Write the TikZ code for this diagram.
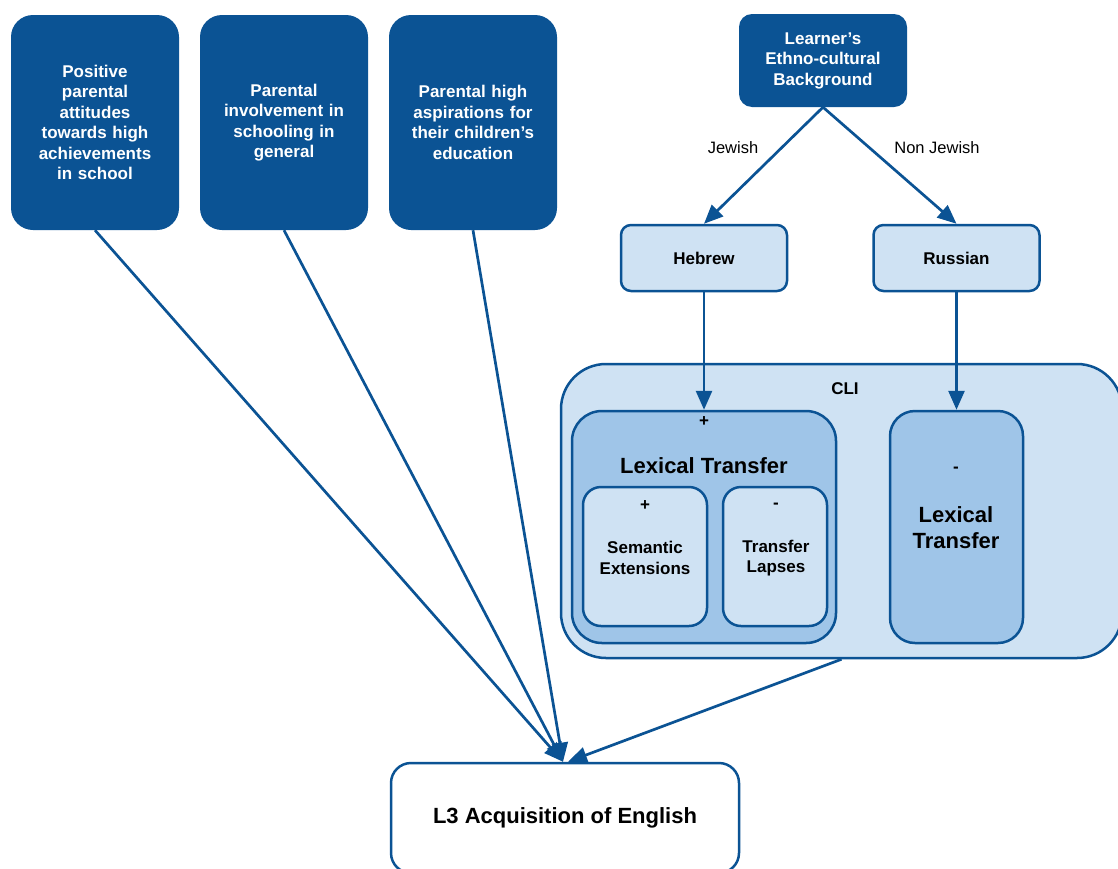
\documentclass[tikz,border=0pt]{standalone}
\usepackage{fontspec}
\setmainfont{Liberation Sans}
\usetikzlibrary{arrows.meta}
\definecolor{darkblue}{HTML}{0B5394}
\definecolor{paleblue}{HTML}{CFE2F3}
\definecolor{midblue}{HTML}{9FC5E8}

\begin{document}
\begin{tikzpicture}[x=1pt,y=-1pt,
  factor/.style={fill=darkblue, rounded corners=22pt, minimum width=168pt, minimum height=215pt,
    text width=150pt, align=center, inner sep=0pt, text=white,
    font=\bfseries\fontsize{17}{20.5}\selectfont},
  group/.style={draw=darkblue, line width=2.5pt, inner sep=0pt},
  txt/.style={inner sep=0pt, align=center, font=\bfseries\fontsize{17}{20.5}\selectfont},
  big/.style={inner sep=0pt, align=center, font=\bfseries\fontsize{22}{26}\selectfont},
  lbl/.style={inner sep=0pt, font=\fontsize{16.5}{20}\selectfont},
  arr/.style={draw=darkblue, line width=2.7pt, -{Triangle[length=19pt,width=16pt]}}]
\clip (0,0) rectangle (1118,868);

% parental factors
\node[factor] (att) at (95,122.5) {Positive\\parental\\attitudes\\towards high\\achievements\\in school};
\node[factor] (inv) at (284,122.5) {Parental\\involvement in\\schooling in\\general};
\node[factor] (asp) at (473,122.5) {Parental high\\aspirations for\\their children’s\\education};

% background and languages
\node[factor, minimum height=93pt, rounded corners=13pt] (bg) at (823,60.5) {Learner’s\\Ethno-cultural\\Background};
\node[group, txt, fill=paleblue, minimum width=166pt, minimum height=66pt, rounded corners=10pt] (heb) at (704,258) {Hebrew};
\node[group, txt, fill=paleblue, minimum width=166pt, minimum height=66pt, rounded corners=10pt] (rus) at (956.5,258) {Russian};
\node[lbl] (jew) at (733,148) {Jewish};
\node[lbl] (nonjew) at (937,148) {Non Jewish};

% CLI
\node[group, fill=paleblue, minimum width=561pt, minimum height=294pt, rounded corners=45pt] (cli) at (841.5,511) {};
\node[txt] (clilab) at (845,389) {CLI};

\node[group, fill=midblue, minimum width=264pt, minimum height=232pt, rounded corners=30pt] (ltpos) at (704,527) {};
\node[txt] (ltpossign) at (704,422) {+};
\node[big] (ltposlab) at (704,466) {Lexical Transfer};

\node[group, fill=paleblue, minimum width=124pt, minimum height=139pt, rounded corners=18pt] (sem) at (645,556.5) {};
\node[txt] (semsign) at (645,506) {+};
\node[txt] (semlab) at (645,558) {Semantic\\Extensions};

\node[group, fill=paleblue, minimum width=104pt, minimum height=139pt, rounded corners=18pt] (lap) at (775,556.5) {};
\node[txt] (lapsign) at (776,506) {-};
\node[txt] (laplab) at (776,558) {Transfer\\Lapses};

\node[group, fill=midblue, minimum width=133pt, minimum height=232pt, rounded corners=25pt] (ltneg) at (956.5,527) {};
\node[txt] (ltnegsign) at (956,470) {-};
\node[big] (ltneglab) at (956,528) {Lexical\\Transfer};

% outcome
\node[group, big, fill=white, minimum width=348pt, minimum height=110pt, rounded corners=20pt] (acq) at (565,818) {L3 Acquisition of English};

% arrows
\draw[arr] (bg.south) -- (heb.north);
\draw[arr] (bg.south) -- (rus.north);
\draw[arr] (heb.south) -- (ltpos.north);
\draw[arr] (rus.south) -- (ltneg.north);
\draw[arr] (att.south) -- ([xshift=-2pt]acq.north);
\draw[arr] (inv.south) -- ([xshift=-2pt]acq.north);
\draw[arr] (asp.south) -- ([xshift=-2pt]acq.north);
\draw[arr] (cli.south) -- ([xshift=3pt]acq.north);
\end{tikzpicture}
\end{document}
